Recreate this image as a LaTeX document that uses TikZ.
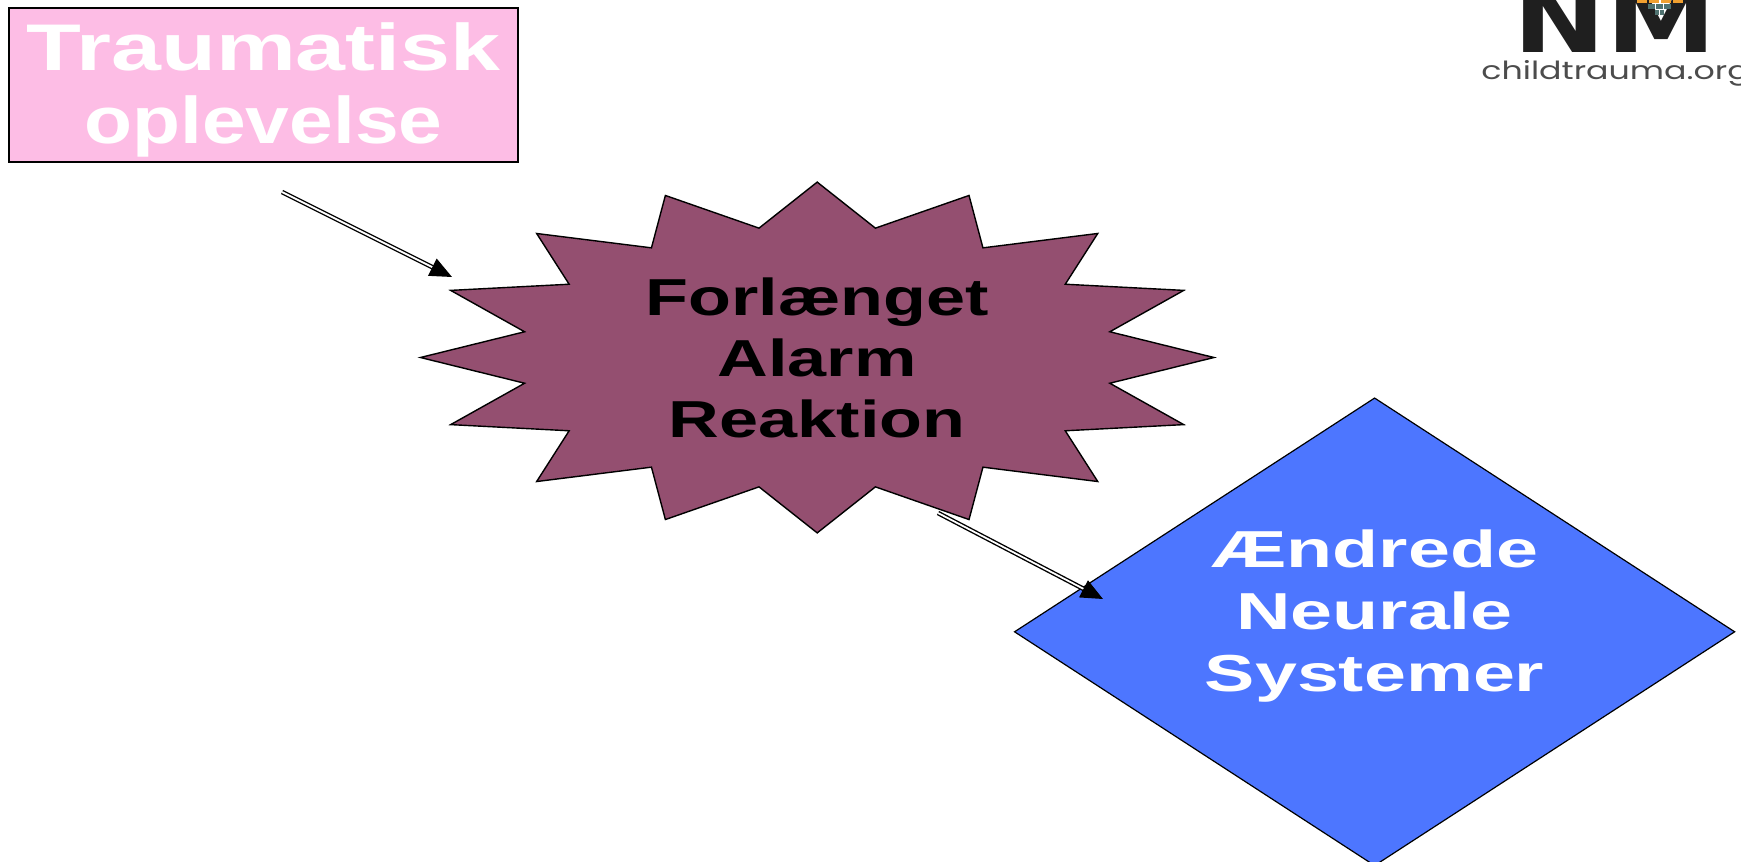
\documentclass[tikz,border=0pt]{standalone}
\usepackage{fontspec}
\usepackage{tikz}
\usetikzlibrary{arrows.meta,shapes.geometric}
\newfontfamily\titlefont[FakeStretch=1.36]{Liberation Sans Bold}
\newfontfamily\subtitlefont[FakeStretch=1.19]{Liberation Sans Bold}
\newfontfamily\boxfont[FakeStretch=1.35]{Liberation Sans Bold}
\newfontfamily\diafont[FakeStretch=1.45]{Liberation Sans Bold}
\newfontfamily\logofont[FakeStretch=1.2]{DejaVu Sans Bold}
\newfontfamily\orgfont[FakeStretch=1.33]{Poppins}
\definecolor{traumapink}{HTML}{FDBDE5}
\definecolor{alarmplum}{HTML}{944F70}
\definecolor{neuralblue}{HTML}{4D76FF}
\definecolor{tileorange}{HTML}{F0A030}
\definecolor{tileteal}{HTML}{4F7270}
\tikzset{
  traumabox/.style = {shape=rectangle, draw=black, line width=1.2pt, fill=traumapink,
                      minimum width=254.5pt, minimum height=77pt},
  alarmstar/.style = {shape=star, star points=16, star point ratio=1.33, draw=black,
                      line width=0.7pt, fill=alarmplum, inner sep=0pt,
                      minimum size=175.4pt, xscale=2.262},
  neuraldia/.style = {shape=diamond, draw=black, line width=0.6pt, fill=neuralblue,
                      inner sep=0pt, minimum width=360.3pt, minimum height=234pt},
  traumatext/.style = {align=center, text=white, font=\fontsize{33}{36.5}\selectfont},
  alarmtext/.style = {align=center, text=black, font=\boxfont\fontsize{26}{30.5}\selectfont},
  neuraltext/.style = {align=center, text=white, font=\diafont\fontsize{26}{31}\selectfont},
  linkarrow/.style = {draw=black, line width=0.7pt, double distance=0.9pt,
                      -{Triangle[length=11pt,width=9.5pt]}}
}

\begin{document}
\begin{tikzpicture}[x=0.5pt,y=-0.5pt]
  \useasboundingbox (0,0) rectangle (1741,862);
  \clip (0,0) rectangle (1741,862);

  \node [traumabox] (trauma) at (263.5,85) {};
  \node [traumatext] (traumalabel) at (263.5,90) {\titlefont Traumatisk\\\subtitlefont oplevelse};
  \node [alarmstar] (alarm) at (817.2,357.5) {};
  \node [alarmtext] (alarmlabel) at (817.2,357.5) {Forlænget\\Alarm\\Reaktion};
  \node [neuraldia] (neural) at (1374.6,631.8) {};
  \node [neuraltext] (neurallabel) at (1374.6,616.5) {Ændrede\\Neurale\\Systemer};

  % arrows stop short of the shapes
  \coordinate (traumaout) at (282,192);
  \coordinate (alarmin) at (452,277);
  \coordinate (alarmout) at (938,513);
  \coordinate (neuralin) at (1103,599);
  \draw [linkarrow] (traumaout) -- (alarmin);
  \draw [linkarrow] (alarmout) -- (neuralin);

  % logo
  \node [anchor=base, text=black!88, inner sep=0pt,
         font=\logofont\fontsize{46}{46}\selectfont] (logoname) at (1615,52) {NM};
  \foreach \x in {1637,1649,1661,1673}
    \fill [tileorange] (\x,0) rectangle +(9.5,2.5);
  \foreach \x in {1648,1656,1664}
    \fill [tileteal] (\x,4) rectangle +(7,4.5);
  \foreach \x in {1655,1660}
    \fill [tileteal] (\x,10) rectangle +(4,5);
  \node [anchor=base west, text=black!70, inner sep=0pt,
         font=\orgfont\fontsize{12.5}{14}\selectfont] (logoorg) at (1481,79) {childtrauma.org};
\end{tikzpicture}
\end{document}
